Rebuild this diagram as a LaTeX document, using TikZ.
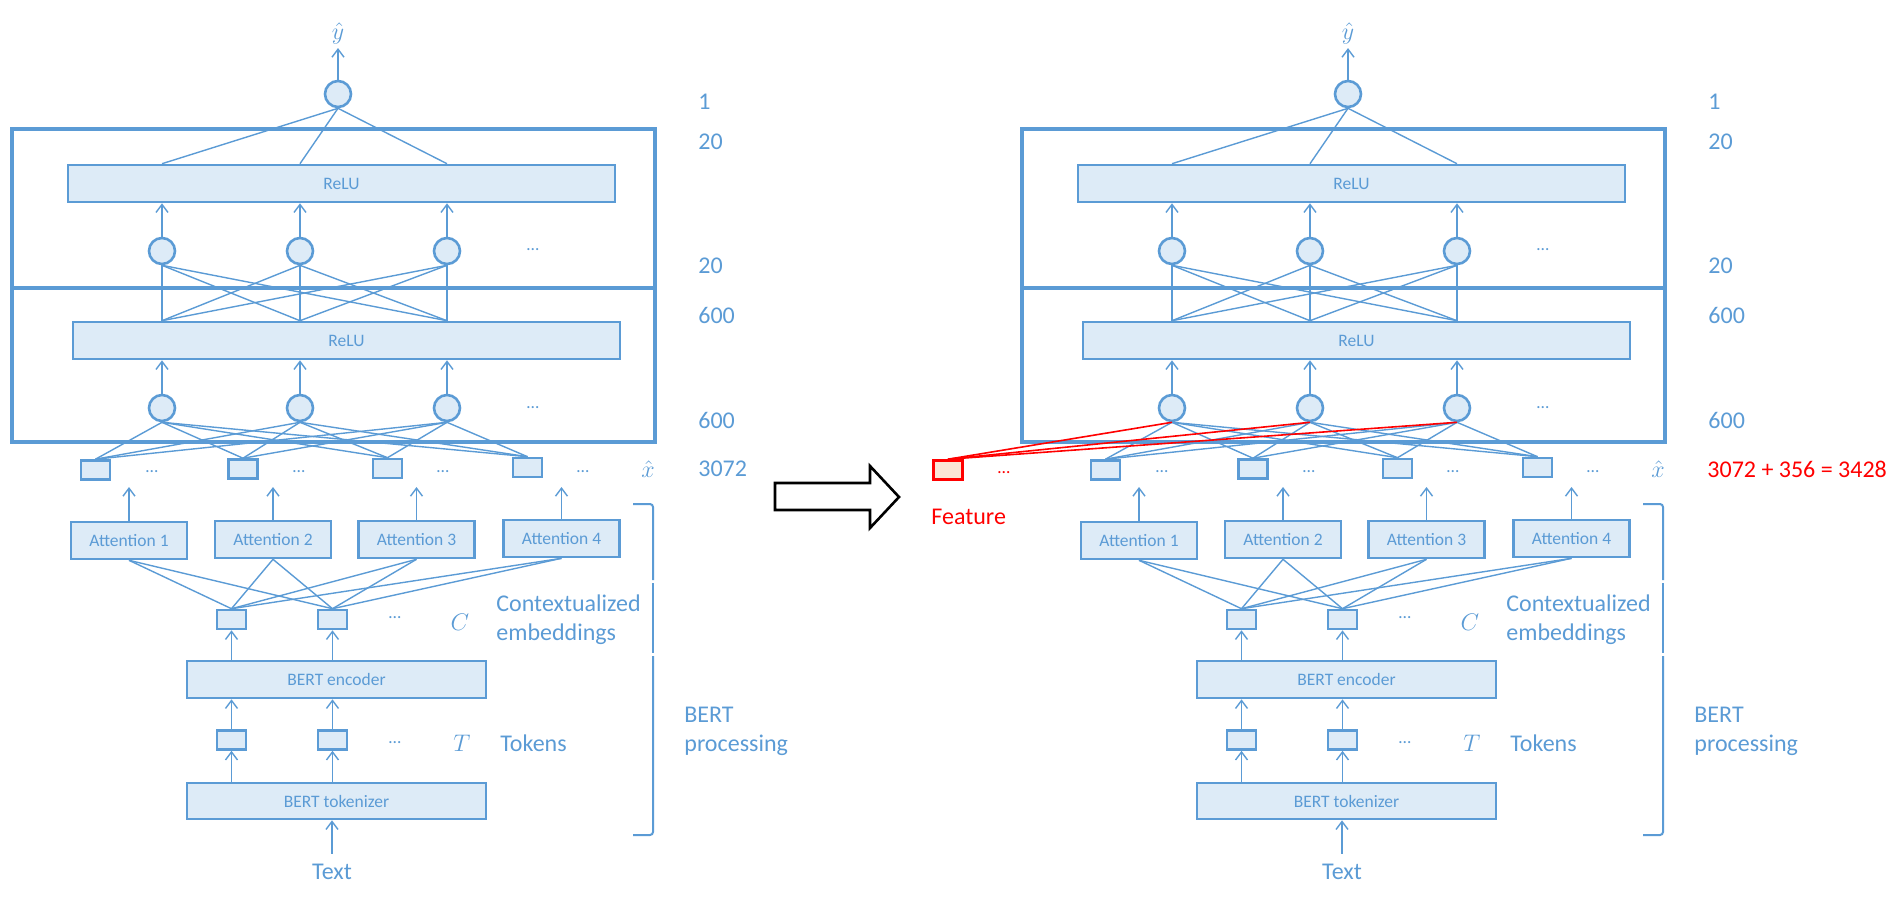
\documentclass[tikz,border=0pt]{standalone}
\usepackage{fontspec}
\setmainfont{Carlito}
\usetikzlibrary{arrows.meta}
\definecolor{netblue}{RGB}{91,155,213}
\definecolor{netfill}{RGB}{221,235,247}
\definecolor{featfill}{RGB}{251,229,214}
\definecolor{featred}{RGB}{255,0,0}

\begin{document}
\begin{tikzpicture}[x=0.5pt,y=-0.5pt,
	every node/.style={inner sep=0pt, text=netblue},
	big/.style={font=\fontsize{12}{14.5}\selectfont},
	small/.style={font=\fontsize{8.75}{10}\selectfont},
	relubox/.style={draw=netblue, fill=netfill, line width=1.3pt, minimum width=273.5pt, minimum height=18.5pt, small},
	attbox/.style={relubox, minimum width=58pt},
	bertbox/.style={relubox, minimum width=149.5pt},
	neuron/.style={circle, draw=netblue, fill=netfill, line width=1.3pt, minimum size=13pt},
	sq/.style={draw=netblue, fill=netfill, line width=1.3pt, minimum width=14.5pt, minimum height=9.5pt},
	frame/.style={draw=netblue, line width=1.6pt},
	wire/.style={draw=netblue, line width=0.7pt},
	arr/.style={wire, -{Straight Barb[length=4pt,width=6pt]}},
	brk/.style={draw=netblue, line width=1pt, rounded corners=1.5pt}]
	\useasboundingbox (0,0) rectangle (1896,896);
	% the same network twice, left and right
	\foreach \p/\dx in {L/0,R/1010} {
	\begin{scope}[shift={(\dx,0)}, name prefix=\p-]
		\draw[frame] (12,129) rectangle (655,288);
		\draw[frame] (12,288) rectangle (655,442);
		\node[neuron] (out) at (338,94) {};
		\node[big, inner sep=2pt] (yhat) at (338,33) {$\hat{y}$};
		\node[relubox] (relu2) at (341.5,183.5) {ReLU};
		\node[relubox] (relu1) at (346.5,340.5) {ReLU};
		\node[neuron] (h1) at (162,251) {};
		\node[neuron] (h2) at (300,251) {};
		\node[neuron] (h3) at (447,251) {};
		\node[small] (hdots) at (533,250) {…};
		\node[neuron] (g1) at (162,408) {};
		\node[neuron] (g2) at (300,408) {};
		\node[neuron] (g3) at (447,408) {};
		\node[small] (gdots) at (533,408) {…};
		% x hat
		\node[sq] (s1) at (95.5,470) {};
		\node[sq] (s2) at (243,469) {};
		\node[sq] (s3) at (387.5,468.5) {};
		\node[sq] (s4) at (527.5,467.5) {};
		\node[small] (sdots1) at (152,472) {…};
		\node[small] (sdots2) at (299,472) {…};
		\node[small] (sdots3) at (443,472) {…};
		\node[small] (sdots4) at (583,472) {…};
		\node[big] (xhat) at (648,469) {$\hat{x}$};
		% attention heads
		\node[attbox] (att1) at (129,540.5) {Attention 1};
		\node[attbox] (att2) at (273,539.5) {Attention 2};
		\node[attbox] (att3) at (416.5,539.5) {Attention 3};
		\node[attbox] (att4) at (561.5,538.5) {Attention 4};
		\coordinate (up1) at (129,487);
		\coordinate (up2) at (273,487);
		\coordinate (up3) at (416.5,487);
		\coordinate (up4) at (561.5,487);
		% BERT part
		\node[sq] (c1) at (231.5,619.5) {};
		\node[sq] (c2) at (332.5,619.5) {};
		\node[small] (cdots) at (395,618) {…};
		\node[big] (clab) at (460,622) {$C$};
		\node[big, anchor=west, align=left] (ctext) at (496,619.5) {Contextualized\\embeddings};
		\node[bertbox] (enc) at (336.5,679.5) {BERT encoder};
		\node[sq] (t1) at (231.5,740) {};
		\node[sq] (t2) at (332.5,740) {};
		\node[small] (tdots) at (395,743) {…};
		\node[big] (tlab) at (462,743) {$T$};
		\node[big, anchor=west] (ttext) at (500,743) {Tokens};
		\node[bertbox, minimum height=18pt] (tok) at (336.5,801) {BERT tokenizer};
		\node[big, inner sep=5pt] (txt) at (332,872) {Text};
		\draw[brk] (633,504) -- (653,504) -- (653,580);
		\draw[brk] (653,583) -- (653,653);
		\draw[brk] (653,656) -- (653,835) -- (633,835);
		\node[big, anchor=west, align=left] (btext) at (684,731.5) {BERT\\processing};
		% sizes
		\node[big, anchor=west] (n1) at (698,102) {1};
		\node[big, anchor=west] (n20a) at (698,142) {20};
		\node[big, anchor=west] (n20b) at (698,266) {20};
		\node[big, anchor=west] (n600a) at (698,315) {600};
		\node[big, anchor=west] (n600b) at (698,420) {600};
		% connectors
		\draw[arr] (out) -- (yhat);
		\foreach \i in {1,2,3} {
			\draw[wire] (out.south) -- (relu2.north -| h\i);
			\draw[arr] (h\i) -- (relu2.south -| h\i);
			\draw[arr] (g\i) -- (relu1.south -| g\i);
			\foreach \j in {1,2,3} \draw[wire] (h\i.south) -- (relu1.north -| h\j);
			\foreach \j in {1,...,4} \draw[wire] (g\i.south) -- (s\j.north);
		}
		\foreach \i in {1,...,4} {
			\draw[arr] (att\i) -- (up\i);
			\draw[wire] (att\i.south) -- (c1.north);
			\draw[wire] (att\i.south) -- (c2.north);
		}
		\foreach \i in {1,2} {
			\draw[arr] (enc.north -| c\i) -- (c\i);
			\draw[arr] (t\i) -- (enc.south -| t\i);
			\draw[arr] (tok.north -| t\i) -- (t\i);
		}
		\draw[arr] (txt) -- (tok.south -| txt);
	\end{scope}
	}
	\node[big, anchor=west] (dimL) at (698,469) {3072};
	\node[big, anchor=west, text=featred] (dimR) at (1707,469) {3072 + 356 = 3428};
	% big arrow between the two
	\draw[line width=1.3pt, fill=white] (775,483) -- (870,483) -- (870,466) -- (899,497)
		-- (870,528) -- (870,510) -- (775,510) -- cycle;
	% added feature
	\node[sq, draw=featred, fill=featfill] (feat) at (948,470) {};
	\node[small, text=featred] (fdots) at (1004,473) {…};
	\node[big, anchor=west, text=featred] (ftext) at (931,517) {Feature};
	\foreach \i in {1,2,3} \draw[wire, draw=featred, line width=0.8pt] (feat.north) -- (R-g\i.south);
\end{tikzpicture}
\end{document}
